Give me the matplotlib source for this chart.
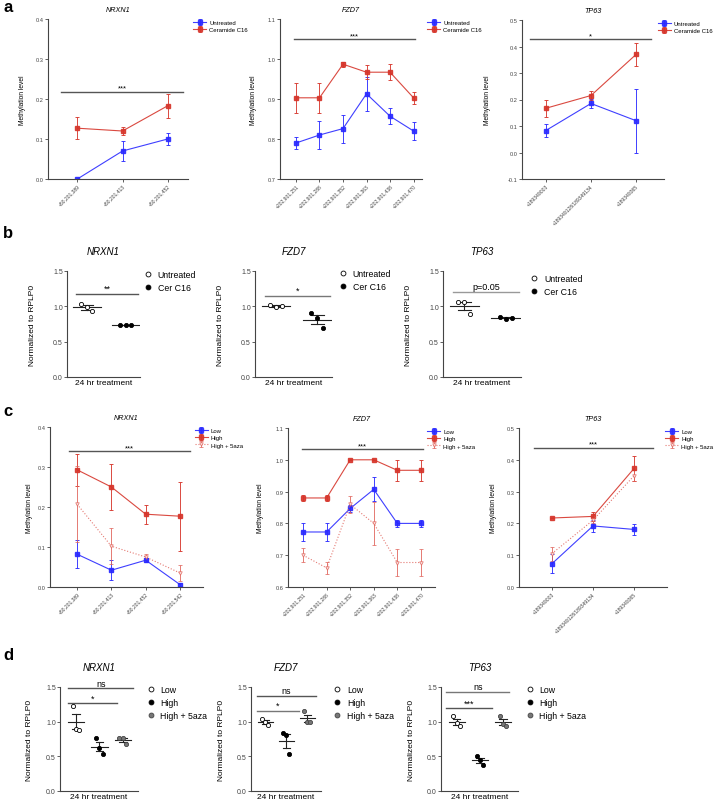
import numpy as np
import matplotlib
matplotlib.use("Agg")
import matplotlib.pyplot as plt
from matplotlib.lines import Line2D

plt.rcParams['font.family'] = ['Liberation Sans', 'DejaVu Sans']

# ---- data ----
nrxn1_sites_a = ["+50,201,389", "+50,201,413", "+50,201,452"]
nrxn1_sites_c = ["+50,201,389", "+50,201,413", "+50,201,452", "+50,201,542"]
fzd7_sites = ["+202,901,251", "+202,901,288", "+202,901,352", "+202,901,363", "+202,901,438", "+202,901,470"]
tp63_sites = ["+189349003", "+189349128/189349134", "+189349365"]

# panel a: methylation, untreated vs ceramide C16
a_nrxn1_untr = [0.0, 0.07, 0.10]
a_nrxn1_untr_err = [0.0, 0.025, 0.015]
a_nrxn1_cer = [0.127, 0.12, 0.183]
a_nrxn1_cer_err = [0.027, 0.01, 0.03]

a_fzd7_untr = [0.79, 0.81, 0.826, 0.913, 0.857, 0.82]
a_fzd7_untr_err = [0.015, 0.035, 0.035, 0.043, 0.02, 0.022]
a_fzd7_cer = [0.903, 0.903, 0.987, 0.967, 0.967, 0.903]
a_fzd7_cer_err = [0.038, 0.038, 0.006, 0.018, 0.02, 0.015]

a_tp63_untr = [0.083, 0.185, 0.12]
a_tp63_untr_err = [0.023, 0.018, 0.12]
a_tp63_cer = [0.167, 0.215, 0.37]
a_tp63_cer_err = [0.032, 0.018, 0.044]

# panel b: expression, 24 hr treatment
b_nrxn1_untr = [1.04, 0.99, 0.93]
b_nrxn1_cer = [0.74, 0.74, 0.74]
b_fzd7_untr = [1.02, 0.99, 1.0]
b_fzd7_cer = [0.90, 0.84, 0.70]
b_tp63_untr = [1.06, 1.06, 0.89]
b_tp63_cer = [0.85, 0.82, 0.84]

# panel c: methylation, low / high / high + 5aza
c_nrxn1_low = [0.082, 0.042, 0.067, 0.006]
c_nrxn1_low_err = [0.035, 0.025, 0.005, 0.003]
c_nrxn1_high = [0.293, 0.25, 0.182, 0.177]
c_nrxn1_high_err = [0.04, 0.057, 0.024, 0.086]
c_nrxn1_aza = [0.207, 0.102, 0.075, 0.035]
c_nrxn1_aza_err = [0.095, 0.045, 0.008, 0.02]

c_fzd7_low = [0.773, 0.773, 0.847, 0.907, 0.80, 0.80]
c_fzd7_low_err = [0.027, 0.027, 0.01, 0.038, 0.01, 0.01]
c_fzd7_high = [0.88, 0.88, 1.0, 1.0, 0.967, 0.967]
c_fzd7_high_err = [0.01, 0.01, 0.0, 0.0, 0.033, 0.033]
c_fzd7_aza = [0.70, 0.66, 0.86, 0.80, 0.677, 0.677]
c_fzd7_aza_err = [0.022, 0.02, 0.027, 0.068, 0.043, 0.043]

c_tp63_low = [0.073, 0.192, 0.181]
c_tp63_low_err = [0.03, 0.018, 0.016]
c_tp63_high = [0.217, 0.222, 0.373]
c_tp63_high_err = [0.0, 0.015, 0.04]
c_tp63_aza = [0.105, 0.21, 0.35]
c_tp63_aza_err = [0.022, 0.01, 0.017]

# panel d: expression, low / high / high + 5aza
d_nrxn1 = [[1.22, 0.90, 0.88], [0.76, 0.62, 0.53], [0.76, 0.76, 0.68]]
d_fzd7 = [[1.04, 1.0, 0.95], [0.83, 0.81, 0.53], [1.15, 1.0, 1.0]]
d_tp63 = [[1.08, 0.98, 0.94], [0.50, 0.45, 0.37], [1.08, 0.97, 0.94]]

BLUE = '#2a2aff'
RED = '#d6352b'
SPINE = '#444444'

W, H = 714, 804
fig = plt.figure(figsize=(W / 100, H / 100), dpi=100)


def add_ax(left, top, right, bottom):
    ax = fig.add_axes([left / W, 1 - bottom / H, (right - left) / W, (bottom - top) / H])
    for s in ['top', 'right']:
        ax.spines[s].set_visible(False)
    for s in ['left', 'bottom']:
        ax.spines[s].set_color(SPINE)
        ax.spines[s].set_linewidth(0.8)
    ax.tick_params(colors=SPINE, width=0.6, length=2, pad=1)
    return ax


def line_panel(ax, sites, series, ylim, yticks, xlim, sig, title, ylab_x, leg_x, fs=4.1):
    x = np.arange(len(sites))
    for vals, errs, color, ls, mk, label in series:
        if mk == 'v':
            ax.errorbar(x, vals, yerr=errs, color=color, ls=ls, lw=0.8, marker='v', ms=2.5,
                        mfc='white', mec=color, mew=0.6, capsize=1.6, elinewidth=0.7,
                        ecolor=color, alpha=0.85, label=label)
        else:
            ax.errorbar(x, vals, yerr=errs, color=color, ls=ls, lw=0.8, marker='s', ms=2.2,
                        capsize=1.6, elinewidth=0.7, capthick=0.7, alpha=0.9, label=label)
    ax.set_xlim(*xlim)
    ax.set_ylim(*ylim)
    ax.set_yticks(yticks)
    ax.set_yticklabels(['%.1f' % v for v in yticks], fontsize=fs)
    ax.set_xticks(x)
    ax.set_xticklabels(sites, rotation=45, ha='right', rotation_mode='anchor', fontsize=fs - 0.5)
    ax.set_ylabel('Methylation level', fontsize=4.8)
    ax.yaxis.set_label_coords(ylab_x, 0.5)
    ax.set_title(title, fontsize=5.2, style='italic', pad=6)
    y0, x0, x1, txt = sig
    ax.plot([x0, x1], [y0, y0], color='#555555', lw=1.0, clip_on=False)
    ax.text((x0 + x1) / 2, y0, txt, ha='center', va='bottom', fontsize=5.5)
    ax.legend(loc='upper left', bbox_to_anchor=(leg_x, 1.01), frameon=False, fontsize=4.3,
              handlelength=2.2, borderaxespad=0, labelspacing=0.35, handletextpad=0.5)


def scatter_panel(ax, groups, labels, styles, xlim, sigs, title, ylab_x, leg_x, leg_y):
    jitter = [-0.14, 0.0, 0.14]
    for i, vals in enumerate(groups):
        mfc, mec = styles[i]
        ax.scatter(np.array(jitter) + i, vals, s=9, facecolor=mfc, edgecolor=mec, lw=0.6, zorder=3)
        m = np.mean(vals)
        sem = np.std(vals, ddof=1) / np.sqrt(len(vals))
        ax.plot([i - 0.35, i + 0.35], [m, m], color='#222222', lw=0.8, zorder=2)
        ax.plot([i, i], [m - sem, m + sem], color='#222222', lw=0.8, zorder=2)
        ax.plot([i - 0.16, i + 0.16], [m + sem, m + sem], color='#222222', lw=0.8, zorder=2)
        ax.plot([i - 0.16, i + 0.16], [m - sem, m - sem], color='#222222', lw=0.8, zorder=2)
    ax.set_xlim(*xlim)
    ax.set_ylim(0, 1.5)
    ax.set_yticks([0, 0.5, 1.0, 1.5])
    ax.set_yticklabels(['0.0', '0.5', '1.0', '1.5'], fontsize=5)
    ax.set_xticks([])
    ax.set_xlabel('24 hr treatment', fontsize=6, labelpad=1.5)
    ax.set_ylabel('Normalized to RPLP0', fontsize=6)
    ax.yaxis.set_label_coords(ylab_x, 0.5)
    ax.set_title(title, fontsize=7, style='italic', pad=12)
    for y0, x0, x1, txt, col in sigs:
        ax.plot([x0, x1], [y0, y0], color=col, lw=1.0, clip_on=False)
        ax.text((x0 + x1) / 2, y0 + 0.01, txt, ha='center', va='bottom', fontsize=6.5)
    handles = [Line2D([], [], ls='none', marker='o', ms=3.5, mfc=styles[i][0], mec=styles[i][1], mew=0.6)
               for i in range(len(labels))]
    ax.legend(handles, labels, loc='upper left', bbox_to_anchor=(leg_x, leg_y), frameon=False,
              fontsize=6.3, handlelength=1, borderaxespad=0, labelspacing=0.45, handletextpad=0.6)


# ---- panel a ----
untr_cer = lambda u, ue, c, ce: [(u, ue, BLUE, '-', 's', 'Untreated'), (c, ce, RED, '-', 's', 'Ceramide C16')]

ax = add_ax(48, 20, 188, 180)
line_panel(ax, nrxn1_sites_a, untr_cer(a_nrxn1_untr, a_nrxn1_untr_err, a_nrxn1_cer, a_nrxn1_cer_err),
           (0, 0.4), [0, 0.1, 0.2, 0.3, 0.4], (-0.65, 2.45), (0.218, -0.36, 2.35, '***'),
           'NRXN1', -0.16, 1.02)
ax = add_ax(280, 20, 422, 180)
line_panel(ax, fzd7_sites, untr_cer(a_fzd7_untr, a_fzd7_untr_err, a_fzd7_cer, a_fzd7_cer_err),
           (0.7, 1.1), [0.7, 0.8, 0.9, 1.0, 1.1], (-0.68, 5.36), (1.05, -0.1, 5.05, '***'),
           'FZD7', -0.16, 1.02)
ax = add_ax(522, 21, 664, 180)
line_panel(ax, tp63_sites, untr_cer(a_tp63_untr, a_tp63_untr_err, a_tp63_cer, a_tp63_cer_err),
           (-0.1, 0.5), [-0.1, 0.0, 0.1, 0.2, 0.3, 0.4, 0.5], (-0.53, 2.62), (0.427, -0.36, 2.33, '*'),
           'TP63', -0.22, 0.94)

# ---- panel b ----
b_styles = [('white', 'black'), ('black', 'black')]
b_labels = ['Untreated', 'Cer C16']
ax = add_ax(67, 272, 140, 378)
scatter_panel(ax, [b_nrxn1_untr, b_nrxn1_cer], b_labels, b_styles, (-0.51, 1.36),
              [(1.18, -0.27, 1.32, '**', '#555555')], 'NRXN1', -0.42, 1.0, 1.04)
ax = add_ax(255, 272, 332, 378)
scatter_panel(ax, [b_fzd7_untr, b_fzd7_cer], b_labels, b_styles, (-0.51, 1.36),
              [(1.15, -0.27, 1.32, '*', '#777777')], 'FZD7', -0.4, 1.04, 1.05)
ax = add_ax(443, 272, 521, 378)
scatter_panel(ax, [b_tp63_untr, b_tp63_cer], b_labels, b_styles, (-0.51, 1.36),
              [(1.2, -0.27, 1.32, 'p=0.05', '#999999')], 'TP63', -0.4, 1.07, 1.0)

# ---- panel c ----
low_high = lambda l, le, h, he, a, ae: [(l, le, BLUE, '-', 's', 'Low'), (h, he, RED, '-', 's', 'High'),
                                        (a, ae, '#e0625a', ':', 'v', 'High + 5aza')]
ax = add_ax(50, 428, 203, 588)
line_panel(ax, nrxn1_sites_c, low_high(c_nrxn1_low, c_nrxn1_low_err, c_nrxn1_high, c_nrxn1_high_err,
                                       c_nrxn1_aza, c_nrxn1_aza_err),
           (0, 0.4), [0, 0.1, 0.2, 0.3, 0.4], (-0.79, 3.67), (0.34, -0.23, 3.3, '***'),
           'NRXN1', -0.11, 0.93)
ax = add_ax(288, 429, 435, 588)
line_panel(ax, fzd7_sites, low_high(c_fzd7_low, c_fzd7_low_err, c_fzd7_high, c_fzd7_high_err,
                                    c_fzd7_aza, c_fzd7_aza_err),
           (0.6, 1.1), [0.6, 0.7, 0.8, 0.9, 1.0, 1.1], (-0.64, 5.6), (1.034, -0.04, 5.1, '***'),
           'FZD7', -0.16, 0.93)
ax = add_ax(519, 429, 667, 588)
line_panel(ax, tp63_sites, low_high(c_tp63_low, c_tp63_low_err, c_tp63_high, c_tp63_high_err,
                                    c_tp63_aza, c_tp63_aza_err),
           (0, 0.5), [0, 0.1, 0.2, 0.3, 0.4, 0.5], (-0.8, 2.8), (0.4375, -0.44, 2.46, '***'),
           'TP63', -0.15, 0.97)

# ---- panel d ----
d_styles = [('white', 'black'), ('black', 'black'), ('#777777', '#444444')]
d_labels = ['Low', 'High', 'High + 5aza']
ax = add_ax(60, 688, 138, 792)
scatter_panel(ax, d_nrxn1, d_labels, d_styles, (-0.68, 2.65),
              [(1.48, -0.32, 2.45, 'ns', '#555555'), (1.27, -0.32, 1.75, '*', '#555555')],
              'NRXN1', -0.35, 1.06, 1.05)
ax = add_ax(251, 688, 321, 792)
scatter_panel(ax, d_fzd7, d_labels, d_styles, (-0.68, 2.65),
              [(1.37, -0.4, 2.4, 'ns', '#555555'), (1.16, -0.4, 1.6, '*', '#777777')],
              'FZD7', -0.37, 1.12, 1.05)
ax = add_ax(441, 688, 518, 792)
scatter_panel(ax, d_tp63, d_labels, d_styles, (-0.68, 2.65),
              [(1.43, -0.46, 2.28, 'ns', '#777777'), (1.19, -0.46, 1.54, '***', '#555555')],
              'TP63', -0.34, 1.05, 1.05)

# panel letters
for letter, y in [('a', 8), ('b', 234), ('c', 412), ('d', 656)]:
    fig.text(3 / W, 1 - y / H, letter, fontsize=12, fontweight='bold', va='center', ha='left')

fig.savefig('out.png', dpi=100)
